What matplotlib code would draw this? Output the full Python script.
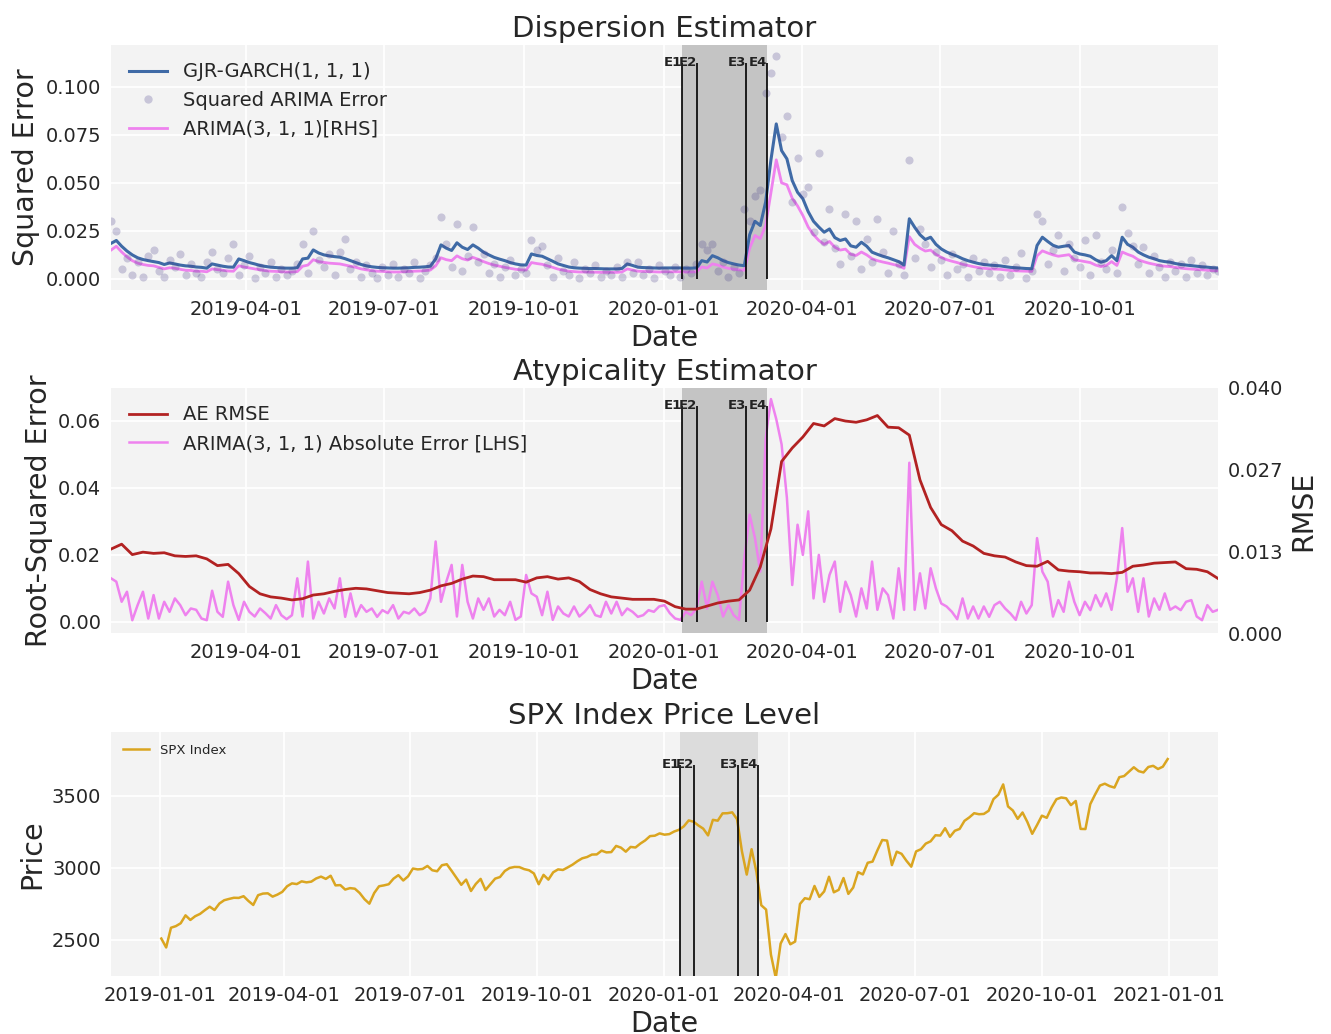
"""Dispersion / atypicality estimators against the SPX price level, 2019-2020."""
import matplotlib

matplotlib.use("Agg")
import matplotlib.dates as mdates
import matplotlib.pyplot as plt
import numpy as np
import pandas as pd
from matplotlib.lines import Line2D
from matplotlib.ticker import FormatStrFormatter, MultipleLocator

# sampling grids: ~3.5 days and ~7 days between observations
SAMPLE_DATES = pd.date_range("2019-01-02", "2020-12-31", periods=209)
WEEK_DATES = pd.date_range("2019-01-02", "2020-12-31", periods=105)

EVENT_NAMES = ["E1", "E2", "E3", "E4"]
EVENT_DATES = ["2020-01-13", "2020-01-23", "2020-02-24", "2020-03-09"]

# all error / variance series below are in units of 1e-3
GARCH_VAR = [
    18.5, 20.0, 17.0, 14.5, 12.5, 11.0, 10.1, 9.5, 9.0,
    8.5, 7.5, 8.3, 7.8, 7.2, 6.8, 6.6, 6.2,
    6.0, 5.6, 7.8, 7.2, 6.6, 6.2, 6.1, 10.4, 9.5,
    8.5, 7.8, 7.0, 6.5, 6.1, 5.9, 5.7, 5.6,
    5.6, 5.8, 10.4, 10.8, 15.1, 13.5, 12.5, 12.0, 11.6,
    11.3, 10.5, 9.5, 8.5, 7.5, 6.8, 6.3, 6.0, 5.8,
    5.7, 5.6, 5.6, 5.7, 5.8, 6.0, 6.1, 6.3, 6.6,
    10.4, 17.7, 16.0, 14.8, 18.8, 16.5, 15.3, 17.7, 16.0,
    13.9, 12.5, 11.2, 10.3, 9.5, 8.5, 7.8, 7.3,
    7.2, 13.0, 12.2, 11.8, 10.5, 9.2, 7.8, 7.0, 6.2,
    5.8, 5.6, 5.5, 5.4, 5.4, 5.3, 5.2, 5.2,
    5.2, 5.4, 7.8, 7.0, 6.1, 5.9, 5.8, 5.7, 5.6,
    5.7, 5.7, 5.7, 5.7, 5.6, 5.6, 5.7, 9.5, 8.8,
    12.1, 11.0, 9.5, 8.5, 7.8, 7.2, 6.9, 23.0,
    30.0, 27.8, 40.0, 62.0, 80.7, 66.8, 62.5, 51.2, 45.1,
    41.7, 35.0, 30.0, 27.0, 24.3, 26.0, 21.5, 20.0, 20.8,
    17.2, 16.5, 19.1, 17.0, 13.9, 12.8, 11.8, 11.0,
    10.0, 9.0, 7.2, 31.3, 26.9, 23.0, 20.5, 21.7, 18.0,
    15.6, 14.0, 12.8, 11.8, 10.5, 9.5, 8.7, 8.0, 7.5,
    7.2, 7.0, 6.8, 6.4, 6.0, 5.8, 5.6, 5.4, 5.3,
    17.4, 21.7, 19.5, 17.5, 16.5, 17.0, 17.4, 14.0,
    13.0, 12.5, 11.8, 10.0, 8.7, 9.5, 12.1, 9.5, 21.7,
    18.0, 16.5, 14.0, 12.5, 11.3, 10.5, 9.5, 9.0, 8.7,
    8.0, 7.5, 7.2, 6.9, 6.6, 6.3, 6.1, 5.8, 5.7,
]

ARIMA_VAR = [
    15.0, 17.0, 14.0, 11.5, 9.5, 8.2, 7.5, 7.0, 6.8,
    6.0, 5.2, 5.8, 5.5, 5.0, 4.5, 4.4, 4.0,
    4.0, 3.7, 5.2, 4.8, 4.5, 4.1, 4.0, 6.8, 6.2,
    5.7, 5.2, 4.7, 4.3, 4.0, 3.9, 3.7, 3.6,
    3.6, 3.8, 6.6, 7.2, 10.0, 9.0, 8.6, 8.2, 8.0,
    7.8, 7.2, 6.6, 6.0, 5.2, 4.7, 4.3, 4.0, 3.9,
    3.7, 3.6, 3.6, 3.7, 3.9, 4.0, 4.1, 4.3, 4.6,
    6.8, 11.0, 10.0, 9.5, 12.0, 10.5, 9.8, 11.2, 10.2,
    9.0, 8.0, 7.2, 6.6, 6.0, 5.5, 5.0, 4.7,
    4.6, 8.5, 8.0, 7.6, 6.8, 6.0, 5.1, 4.5, 4.0,
    3.8, 3.6, 3.6, 3.5, 3.5, 3.4, 3.4, 3.4,
    3.4, 3.6, 5.2, 4.6, 4.0, 3.9, 3.8, 3.7, 3.6,
    3.7, 3.7, 3.7, 3.7, 3.6, 3.6, 3.7, 6.2, 5.7,
    7.8, 7.2, 6.2, 5.5, 5.0, 4.7, 4.5, 16.0,
    22.6, 21.0, 27.8, 45.0, 62.0, 50.0, 49.0, 42.0, 38.0,
    33.0, 27.0, 23.0, 20.0, 18.0, 19.5, 16.5, 15.0, 15.5,
    12.8, 12.2, 14.0, 12.5, 10.5, 9.5, 8.8, 8.2,
    7.5, 6.8, 5.5, 22.0, 18.0, 16.0, 14.5, 15.0, 12.8,
    11.2, 10.0, 9.2, 8.5, 7.6, 7.0, 6.4, 5.9, 5.5,
    5.3, 5.1, 5.0, 4.7, 4.4, 4.2, 4.1, 4.0, 3.9,
    12.0, 14.6, 13.5, 12.5, 11.8, 12.2, 12.6, 10.0,
    9.5, 9.0, 8.5, 7.2, 6.4, 7.0, 9.0, 7.0, 14.0,
    12.8, 11.8, 10.0, 9.0, 8.2, 7.6, 7.0, 6.6, 6.4,
    6.0, 5.6, 5.3, 5.1, 4.9, 4.7, 4.5, 4.3, 4.2,
]

SQ_ERR = [
    30, 25, 5, 11, 2, 9, 1, 12, 15,
    4, 1, 10, 6, 13, 2, 8, 3,
    1, 9, 14, 5, 3, 11, 18, 2, 7,
    12, 0.5, 6, 3, 9, 1, 5, 2,
    4, 8, 18, 3, 25, 10, 6, 13, 2,
    14, 21, 5, 9, 1, 7, 3, 0.5, 6,
    2, 8, 1, 5, 3, 9, 0.5, 4, 7,
    11, 32, 18, 6, 28.5, 4, 12, 27, 9,
    13, 3, 8, 1, 6, 10, 2, 5,
    3, 20, 15, 17, 7, 1, 11, 4, 2,
    9, 0.5, 5, 3, 7, 1, 4, 2,
    6, 1, 9, 3, 8.7, 2, 5, 0.5, 7,
    4, 2, 6, 1, 5, 3, 8, 18, 15,
    18, 4, 9, 1, 6, 3, 36.5, 30,
    43, 46.5, 97, 107, 116, 74, 84.6, 40, 63,
    44, 48, 24.5, 65.6, 19, 36.5, 16, 7.8, 33.9,
    12, 29.9, 5, 21, 9, 31.3, 14, 3,
    25.2, 8, 2, 62, 11, 26, 18, 6, 14,
    10, 2, 13, 5, 8, 1, 11, 4, 9,
    3, 7, 1, 10, 2, 6, 13.3, 0.5, 4,
    33.9, 30, 8, 15, 23, 4, 18, 11,
    6, 20, 2, 23, 9, 5, 15, 3, 37.5,
    24, 17, 8, 16.7, 3, 12, 6, 1, 9,
    4, 8, 1, 10, 3, 7, 2, 5, 4,
]

ABS_ERR = [
    13, 12, 6, 9, 0.5, 5, 9, 1, 8,
    1, 6, 3, 7, 5, 2, 4, 3.6,
    1, 0.5, 9.3, 3, 1.5, 12, 5, 0.6, 6,
    3, 1.6, 4, 2.6, 1, 5, 2, 0.8,
    2, 13, 1.6, 18, 1, 6, 2.5, 7, 4,
    13, 1.5, 8.5, 1.6, 5, 3, 4, 1.5, 3.5,
    2.6, 5, 1, 3, 2.5, 4, 2, 3, 7,
    24, 6, 12, 17, 1.6, 17, 6, 1, 7,
    3.6, 7, 1.6, 3.6, 2, 6, 0.6, 1.6,
    14, 8.5, 7.5, 2, 9, 0.6, 4.6, 2.5, 1.6,
    4.6, 1.6, 3, 5, 2, 1.5, 6, 2.5,
    6, 2, 4, 3, 1.5, 2, 3.5, 3, 4.6,
    5, 2.6, 1, 0.6, 3, 2, 4, 12, 4,
    12, 8, 1.6, 5, 2, 0.6, 19, 32,
    25, 15, 54.6, 66.5, 60.5, 53, 37, 11, 29,
    20, 33, 7, 20, 6, 14, 18, 3, 12,
    8, 1.6, 10, 4, 18, 3.6, 10, 8,
    1, 16, 3.6, 47.5, 3.6, 14.5, 4, 16, 10,
    5.5, 4.6, 3, 0.8, 7, 1, 4.6, 1, 4.6,
    1.5, 5, 6, 4, 2.5, 0.6, 6, 2.5, 5,
    25, 15, 12, 1.6, 6.5, 3, 12, 6,
    2, 6, 3.5, 8, 4.6, 8.5, 3.6, 13, 28,
    9, 13, 3, 13, 1.6, 7, 3.6, 8.5, 3.6,
    4.6, 3.5, 6, 6.5, 1.6, 0.5, 5, 3, 3.6,
]

AE_RMSE = [
    13.7, 14.5, 12.8, 13.2, 13.0, 13.1, 12.6, 12.5, 12.6, 12.1,
    11.0, 11.2, 9.7, 7.6, 6.4, 5.9, 5.7, 5.4, 5.6, 6.2,
    6.4, 6.8, 7.1, 7.3, 7.2, 6.9, 6.6, 6.5, 6.4, 6.6,
    7.0, 7.7, 8.1, 8.8, 9.3, 9.2, 8.7, 8.7, 8.7, 8.3,
    9.0, 9.2, 8.8, 9.0, 8.4, 7.1, 6.4, 5.9, 5.7, 5.5,
    5.5, 5.5, 5.2, 4.3, 3.9, 3.9, 4.4, 4.9, 5.2, 5.4,
    7.0, 10.8, 17.0, 28.0, 30.2, 32.0, 34.2, 33.8, 35.0, 34.6,
    34.4, 34.8, 35.5, 33.6, 33.5, 32.3, 25.0, 20.5, 17.7, 16.7,
    15.0, 14.2, 13.0, 12.6, 12.4, 11.6, 11.0, 10.9, 11.7, 10.3,
    10.1, 10.0, 9.8, 9.8, 9.7, 9.9, 10.9, 11.1, 11.4, 11.5,
    11.6, 10.5, 10.4, 10.0, 8.9,
]

SPX = [
    2510, 2448, 2585, 2596, 2616, 2671, 2639, 2665, 2681,
    2707, 2731, 2708, 2753, 2776, 2785, 2793, 2792,
    2804, 2771, 2743, 2811, 2822, 2824, 2801, 2815, 2834,
    2873, 2893, 2888, 2907, 2900, 2905, 2927, 2940,
    2924, 2946, 2879, 2881, 2850, 2860, 2856, 2826, 2783,
    2752, 2826, 2873, 2879, 2887, 2926, 2950, 2913, 2942,
    2996, 2990, 2993, 3014, 2984, 2977, 3019, 3026, 2980,
    2932, 2883, 2919, 2840, 2889, 2924, 2847, 2887, 2926,
    2937, 2979, 3000, 3007, 3006, 2992, 2984, 2962,
    2887, 2952, 2919, 2970, 2990, 2986, 3004, 3023, 3047,
    3067, 3076, 3093, 3094, 3120, 3108, 3110, 3153,
    3141, 3113, 3146, 3142, 3169, 3191, 3221, 3224, 3240,
    3231, 3235, 3253, 3265, 3289, 3330, 3321, 3295, 3273,
    3226, 3334, 3328, 3379, 3380, 3386, 3338, 3116,
    2954, 3130, 2972, 2741, 2711, 2398, 2237, 2475, 2541,
    2470, 2489, 2750, 2790, 2783, 2875, 2799, 2837, 2939,
    2831, 2848, 2930, 2820, 2864, 2971, 2955, 3036,
    3044, 3122, 3194, 3190, 3020, 3113, 3098, 3050, 3009,
    3115, 3130, 3169, 3185, 3227, 3225, 3276, 3216, 3258,
    3271, 3327, 3351, 3380, 3373, 3375, 3397, 3478, 3508,
    3580, 3427, 3399, 3341, 3385, 3319, 3237, 3298,
    3363, 3348, 3419, 3477, 3489, 3484, 3436, 3465, 3271,
    3270, 3443, 3510, 3572, 3585, 3568, 3558, 3630, 3638,
    3669, 3699, 3672, 3663, 3701, 3709, 3687, 3703, 3756,
]

for name, series in [("GARCH_VAR", GARCH_VAR), ("ARIMA_VAR", ARIMA_VAR), ("SQ_ERR", SQ_ERR),
                     ("ABS_ERR", ABS_ERR), ("SPX", SPX)]:
    assert len(series) == len(SAMPLE_DATES), (name, len(series))
assert len(AE_RMSE) == len(WEEK_DATES), len(AE_RMSE)

SCALE = 1e-3
garch = np.array(GARCH_VAR) * SCALE
arima = np.array(ARIMA_VAR) * SCALE
sq_err = np.array(SQ_ERR) * SCALE
abs_err = np.array(ABS_ERR) * SCALE
rmse = np.array(AE_RMSE) * SCALE
spx = np.array(SPX, dtype=float)

TEXT = "#262626"
plt.rcParams.update({
    "font.family": ["DejaVu Sans"],
    "figure.facecolor": "white",
    "axes.facecolor": "#f3f3f3",
    "axes.edgecolor": "none",
    "axes.grid": True,
    "axes.axisbelow": True,
    "grid.color": "white",
    "grid.linewidth": 1.3,
    "xtick.major.size": 0,
    "ytick.major.size": 0,
    "xtick.major.pad": 7,
    "ytick.major.pad": 7,
    "xtick.labelsize": 14,
    "ytick.labelsize": 14,
    "axes.labelsize": 20.5,
    "axes.titlesize": 21,
    "text.color": TEXT,
    "axes.labelcolor": TEXT,
    "xtick.color": TEXT,
    "ytick.color": TEXT,
    "legend.frameon": False,
})


def mark_events(ax, y0, y1, shade):
    start, end = pd.Timestamp(EVENT_DATES[0]), pd.Timestamp(EVENT_DATES[-1])
    ax.axvspan(start, end, color=shade, lw=0, zorder=1)
    for name, day in zip(EVENT_NAMES, EVENT_DATES):
        t = pd.Timestamp(day)
        ax.vlines(t, y0, y1, color="black", lw=1.2, zorder=5)
        ax.text(t, y1, name, ha="right", va="center", fontsize=9.5,
                fontweight="bold", color="#222222", zorder=6)


def date_axis(ax):
    ax.xaxis.set_major_locator(mdates.MonthLocator(bymonth=[1, 4, 7, 10]))
    ax.xaxis.set_major_formatter(mdates.DateFormatter("%Y-%m-%d"))
    ax.set_xlabel("Date")


fig = plt.figure(figsize=(13.31, 10.34), dpi=100)
ax_top = fig.add_axes([0.0834, 0.7195, 0.8317, 0.2370])
ax_mid = fig.add_axes([0.0834, 0.3878, 0.8317, 0.2370])
ax_bot = fig.add_axes([0.0834, 0.0561, 0.8317, 0.2360])

# --- dispersion estimator
ax_top.plot(SAMPLE_DATES, arima, color="violet", lw=2, zorder=3)
ax_top.plot(SAMPLE_DATES, garch, color="#3f6aa6", lw=2.2, zorder=3)
ax_top.scatter(SAMPLE_DATES, sq_err, s=34, color="darkslateblue", alpha=0.25,
               lw=0, zorder=4)
mark_events(ax_top, 0, 0.1125, "#c4c4c4")
ax_top.set_xlim(SAMPLE_DATES[0], SAMPLE_DATES[-1])
ax_top.yaxis.set_major_locator(MultipleLocator(0.025))
ax_top.yaxis.set_major_formatter(FormatStrFormatter("%.3f"))
ax_top.set_title("Dispersion Estimator")
ax_top.set_ylabel("Squared Error")
date_axis(ax_top)
top_handles = [
    Line2D([], [], color="#3f6aa6", lw=2.2, label="GJR-GARCH(1, 1, 1)"),
    Line2D([], [], color="darkslateblue", alpha=0.25, marker="o", ls="none",
           markersize=6, markeredgewidth=0, label="Squared ARIMA Error"),
    Line2D([], [], color="violet", lw=2, label="ARIMA(3, 1, 1)[RHS]"),
]
ax_top.legend(handles=top_handles, loc="upper left", fontsize=14)

# --- atypicality estimator
ax_mid.plot(SAMPLE_DATES, abs_err, color="violet", lw=1.8, zorder=3)
mark_events(ax_mid, 0, 0.0645, "#c4c4c4")
ax_mid.set_xlim(SAMPLE_DATES[0], SAMPLE_DATES[-1])
ax_mid.yaxis.set_major_locator(MultipleLocator(0.02))
ax_mid.yaxis.set_major_formatter(FormatStrFormatter("%.2f"))
ax_mid.set_title("Atypicality Estimator")
ax_mid.set_ylabel("Root-Squared Error")
date_axis(ax_mid)

ax_rmse = ax_mid.twinx()
ax_rmse.plot(WEEK_DATES, rmse, color="firebrick", lw=2, zorder=3)
ax_rmse.set_ylim(0, 0.04)
ax_rmse.set_yticks(np.linspace(0, 0.04, 4))
ax_rmse.yaxis.set_major_formatter(FormatStrFormatter("%.3f"))
ax_rmse.grid(False)
ax_rmse.set_ylabel("RMSE")
mid_handles = [
    Line2D([], [], color="firebrick", lw=2, label="AE RMSE"),
    Line2D([], [], color="violet", lw=1.8, label="ARIMA(3, 1, 1) Absolute Error [LHS]"),
]
ax_rmse.legend(handles=mid_handles, loc="upper left", fontsize=14)

# --- SPX price level
ax_bot.plot(SAMPLE_DATES, spx, color="goldenrod", lw=1.8, label="SPX Index", zorder=3)
ax_bot.set_ylim(2250, 3944)
mark_events(ax_bot, 2250, 3718, "#dcdcdc")
ax_bot.yaxis.set_major_locator(MultipleLocator(500))
ax_bot.set_title("SPX Index Price Level")
ax_bot.set_ylabel("Price")
date_axis(ax_bot)
ax_bot.legend(loc="upper left", fontsize=9.5)

fig.savefig("out.png", dpi=100)
